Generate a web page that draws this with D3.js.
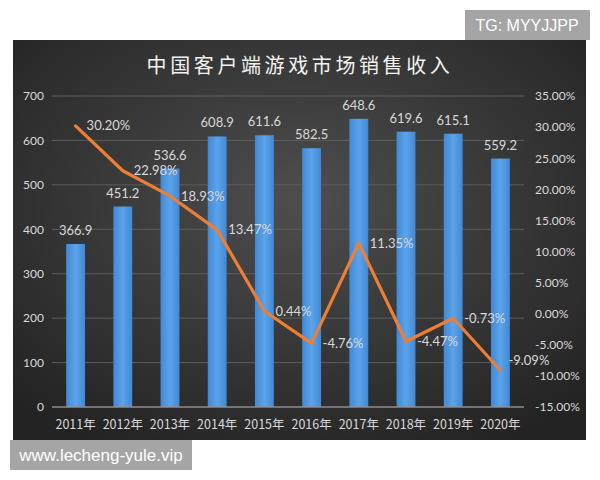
<!DOCTYPE html>
<html>
<head>
<meta charset="utf-8">
<script src="https://cdn.jsdelivr.net/npm/d3@7"></script>
<style>
  body { margin: 0; background: #fff; }
</style>
</head>
<body>
<div id="chart"></div>
<script>
const years = ["2011年","2012年","2013年","2014年","2015年","2016年","2017年","2018年","2019年","2020年"]
const revenue = [366.9, 451.2, 536.6, 608.9, 611.6, 582.5, 648.6, 619.6, 615.1, 559.2]
const growth = [30.20, 22.98, 18.93, 13.47, 0.44, -4.76, 11.35, -4.47, -0.73, -9.09]
const leftTicks = [0, 100, 200, 300, 400, 500, 600, 700]
const rightTicks = [-15, -10, -5, 0, 5, 10, 15, 20, 25, 30, 35]

const CLINE = "#ec7f36"
const CTEXT = "#d9d9d9"
const NUMFONT = "Lato, 'Noto Sans', sans-serif"

const width = 600, height = 480
const svg = d3.select("#chart").append("svg")
    .attr("width", width).attr("height", height)

const defs = svg.append("defs")
const bg = defs.append("radialGradient").attr("id", "bg")
    .attr("cx", "50%").attr("cy", "40%").attr("r", "70%")
bg.append("stop").attr("offset", "0%").attr("stop-color", "#4e4e4e")
bg.append("stop").attr("offset", "100%").attr("stop-color", "#232323")

const barGrad = defs.append("linearGradient").attr("id", "barg")
    .attr("x1", 0).attr("x2", 1).attr("y1", 0).attr("y2", 0)
barGrad.append("stop").attr("offset", "0%").attr("stop-color", "#4289d5")
barGrad.append("stop").attr("offset", "50%").attr("stop-color", "#5ba3ea")
barGrad.append("stop").attr("offset", "100%").attr("stop-color", "#4289d5")

// dark panel
svg.append("rect").attr("x", 13).attr("y", 40).attr("width", 573).attr("height", 400)
    .attr("fill", "url(#bg)")

// title
svg.append("text").attr("x", 300).attr("y", 73).attr("text-anchor", "middle")
    .attr("fill", "#f2f2f2").attr("font-size", 20).attr("letter-spacing", 3.6)
    .attr("font-family", "'Noto Sans CJK SC', sans-serif")
    .text("中国客户端游戏市场销售收入")

const x = d3.scaleBand().domain(years).range([52, 524])
    .paddingInner(0.6).paddingOuter(0.3)
const y = d3.scaleLinear().domain([0, 700]).range([407, 96])
const y2 = d3.scaleLinear().domain([-15, 35]).range([407, 96])

// gridlines
svg.append("g").selectAll("line").data(leftTicks.filter(d => d > 0)).join("line")
    .attr("x1", 52).attr("x2", 524)
    .attr("y1", d => y(d)).attr("y2", d => y(d))
    .attr("stroke", "#5c5c5c").attr("stroke-width", 1)

// left axis
const axL = svg.append("g").attr("transform", "translate(44,0)")
    .call(d3.axisLeft(y).tickValues(leftTicks).tickSize(0).tickPadding(0))
axL.select(".domain").remove()
axL.selectAll("text").attr("fill", CTEXT).attr("font-size", 12).attr("font-family", NUMFONT)

// right axis
const axR = svg.append("g").attr("transform", "translate(535,0)")
    .call(d3.axisRight(y2).tickValues(rightTicks).tickSize(0).tickPadding(0)
        .tickFormat(d => d.toFixed(2) + "%"))
axR.select(".domain").remove()
axR.selectAll("text").attr("fill", CTEXT).attr("font-size", 12).attr("font-family", NUMFONT)

// bars
svg.append("g").selectAll("rect").data(revenue).join("rect")
    .attr("x", (d, i) => x(years[i]))
    .attr("y", d => y(d))
    .attr("width", x.bandwidth())
    .attr("height", d => y(0) - y(d))
    .attr("fill", "url(#barg)")

// baseline
svg.append("line").attr("x1", 52).attr("x2", 524).attr("y1", y(0)).attr("y2", y(0))
    .attr("stroke", "#8c8c8c").attr("stroke-width", 1.5)

// bar labels
svg.append("g").selectAll("text").data(revenue).join("text")
    .attr("x", (d, i) => x(years[i]) + x.bandwidth() / 2)
    .attr("y", d => y(d) - 9)
    .attr("text-anchor", "middle")
    .attr("fill", CTEXT).attr("font-size", 13).attr("font-family", NUMFONT)
    .text(d => d.toFixed(1))

// x axis labels
svg.append("g").selectAll("text").data(years).join("text")
    .attr("x", d => x(d) + x.bandwidth() / 2)
    .attr("y", 429)
    .attr("text-anchor", "middle")
    .attr("fill", CTEXT).attr("font-size", 12.5)
    .attr("font-family", "'Noto Sans CJK SC', sans-serif")
    .text(d => d)

// growth line
const line = d3.line()
    .x((d, i) => x(years[i]) + x.bandwidth() / 2)
    .y(d => y2(d))
svg.append("path").datum(growth)
    .attr("d", line)
    .attr("fill", "none")
    .attr("stroke", CLINE).attr("stroke-width", 3.2)
    .attr("stroke-linejoin", "round").attr("stroke-linecap", "round")

// growth labels (last one sits higher so it does not run into the -10% tick)
const last = growth.length - 1
svg.append("g").selectAll("text").data(growth).join("text")
    .attr("x", (d, i) => x(years[i]) + x.bandwidth() / 2 + (i === last ? 8 : 11))
    .attr("y", (d, i) => y2(d) - (i === last ? 10 : 0))
    .attr("dy", "0.35em")
    .attr("fill", CTEXT).attr("font-size", 13).attr("font-family", NUMFONT)
    .text(d => d.toFixed(2) + "%")

// watermarks
svg.append("rect").attr("x", 465).attr("y", 10).attr("width", 125).attr("height", 30)
    .attr("fill", "#a5a5a5")
svg.append("text").attr("x", 527).attr("y", 31).attr("text-anchor", "middle")
    .attr("fill", "#fff").attr("font-size", 16).attr("font-family", "'Liberation Sans', sans-serif")
    .text("TG: MYYJJPP")

svg.append("rect").attr("x", 10).attr("y", 440).attr("width", 182).attr("height", 30)
    .attr("fill", "#a5a5a5")
svg.append("text").attr("x", 101).attr("y", 461).attr("text-anchor", "middle")
    .attr("fill", "#fff").attr("font-size", 17).attr("font-family", "'Liberation Sans', sans-serif")
    .text("www.lecheng-yule.vip")
</script>
</body>
</html>
